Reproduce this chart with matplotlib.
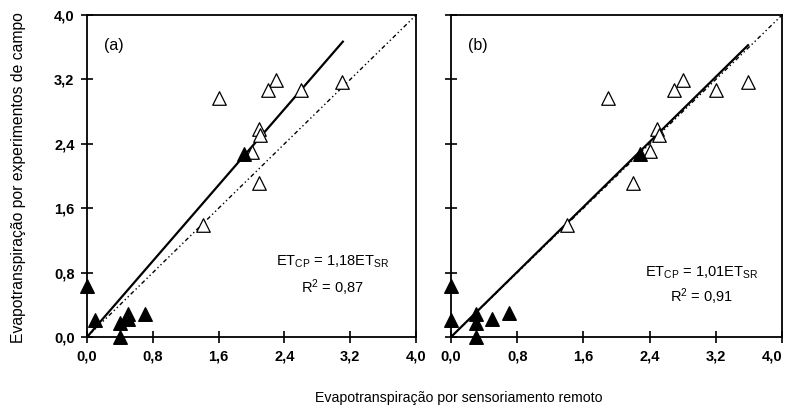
import matplotlib
matplotlib.use('Agg')
import matplotlib.pyplot as plt
import numpy as np

plt.rcParams['font.family'] = ['Liberation Sans', 'DejaVu Sans']
plt.rcParams['mathtext.default'] = 'regular'

# painel (a)
xa_open = [1.61, 2.30, 2.20, 2.60, 3.10, 2.09, 2.10, 2.01, 2.09, 1.41]
ya_open = [2.97, 3.19, 3.07, 3.07, 3.17, 2.59, 2.51, 2.30, 1.91, 1.39]
xa_fill = [1.91, 0.00, 0.10, 0.40, 0.40, 0.50, 0.50, 0.70]
ya_fill = [2.27, 0.63, 0.21, 0.18, 0.00, 0.29, 0.22, 0.29]
slope_a = 1.18
xmax_fit_a = 3.11

# painel (b)
xb_open = [1.90, 2.80, 2.70, 3.20, 3.59, 2.49, 2.51, 2.40, 2.20, 1.40]
yb_open = [2.97, 3.19, 3.07, 3.07, 3.17, 2.59, 2.51, 2.31, 1.91, 1.39]
xb_fill = [2.29, 0.00, 0.00, 0.30, 0.30, 0.30, 0.49, 0.70]
yb_fill = [2.27, 0.63, 0.21, 0.29, 0.18, 0.00, 0.22, 0.30]
slope_b = 1.01
xmax_fit_b = 3.59

ticks = [0.0, 0.8, 1.6, 2.4, 3.2, 4.0]
tick_labels = ['0,0', '0,8', '1,6', '2,4', '3,2', '4,0']

fig = plt.figure(figsize=(7.89, 4.08), dpi=100)
ax1 = fig.add_axes([0.1103, 0.174, 0.417, 0.789])
ax2 = fig.add_axes([0.5716, 0.174, 0.4195, 0.789])

panels = [
    (ax1, xa_open, ya_open, xa_fill, ya_fill, slope_a, xmax_fit_a, '(a)', 'ET$_{CP}$ = 1,18ET$_{SR}$', 'R$^2$ = 0,87', (2.99, 0.94), (2.99, 0.61)),
    (ax2, xb_open, yb_open, xb_fill, yb_fill, slope_b, xmax_fit_b, '(b)', 'ET$_{CP}$ = 1,01ET$_{SR}$', 'R$^2$ = 0,91', (3.03, 0.80), (3.03, 0.50)),
]

for ax, xo, yo, xf, yf, slope, xm, tag, eq, r2, peq, pr2 in panels:
    # linha 1:1
    ax.plot([0, 4], [0, 4], color='black', lw=1.0, ls=(0, (3, 2, 1, 2, 1, 2)), zorder=2)
    # reta ajustada
    xs = np.array([0, xm])
    ax.plot(xs, slope * xs, color='black', lw=1.6, zorder=3)
    ax.scatter(xo, yo, marker='^', s=95, facecolors='white', edgecolors='black', linewidths=0.9, zorder=4, clip_on=False)
    ax.scatter(xf, yf, marker='^', s=95, color='black', zorder=5, clip_on=False)

    ax.set_xlim(0, 4)
    ax.set_ylim(0, 4)
    ax.set_xticks(ticks)
    ax.set_yticks(ticks)
    ax.set_xticklabels(tick_labels, fontsize=10.5, fontweight='bold')
    ax.tick_params(direction='inout', length=8, width=1.2, pad=5)
    for sp in ax.spines.values():
        sp.set_linewidth(1.3)

    ax.text(0.32, 3.62, tag, fontsize=11.5, ha='center', va='center')
    ax.text(peq[0], peq[1], eq, fontsize=10.5, ha='center', va='center')
    ax.text(pr2[0], pr2[1], r2, fontsize=10.5, ha='center', va='center')

ax1.set_yticklabels(tick_labels, fontsize=10.5, fontweight='bold')
ax2.set_yticklabels([])
# o ultimo rotulo do painel (b) fica colado na borda
ax2.get_xticklabels()[-1].set_horizontalalignment('right')
ax2.get_xticklabels()[-1].set_x(4.0)

fig.text(0.023, 0.566, 'Evapotranspiração por experimentos de campo', rotation=90,
         ha='center', va='center', fontsize=11.3)
fig.text(0.582, 0.025, 'Evapotranspiração por sensoriamento remoto',
         ha='center', va='center', fontsize=10.2)

fig.savefig('out.png', dpi=100)
